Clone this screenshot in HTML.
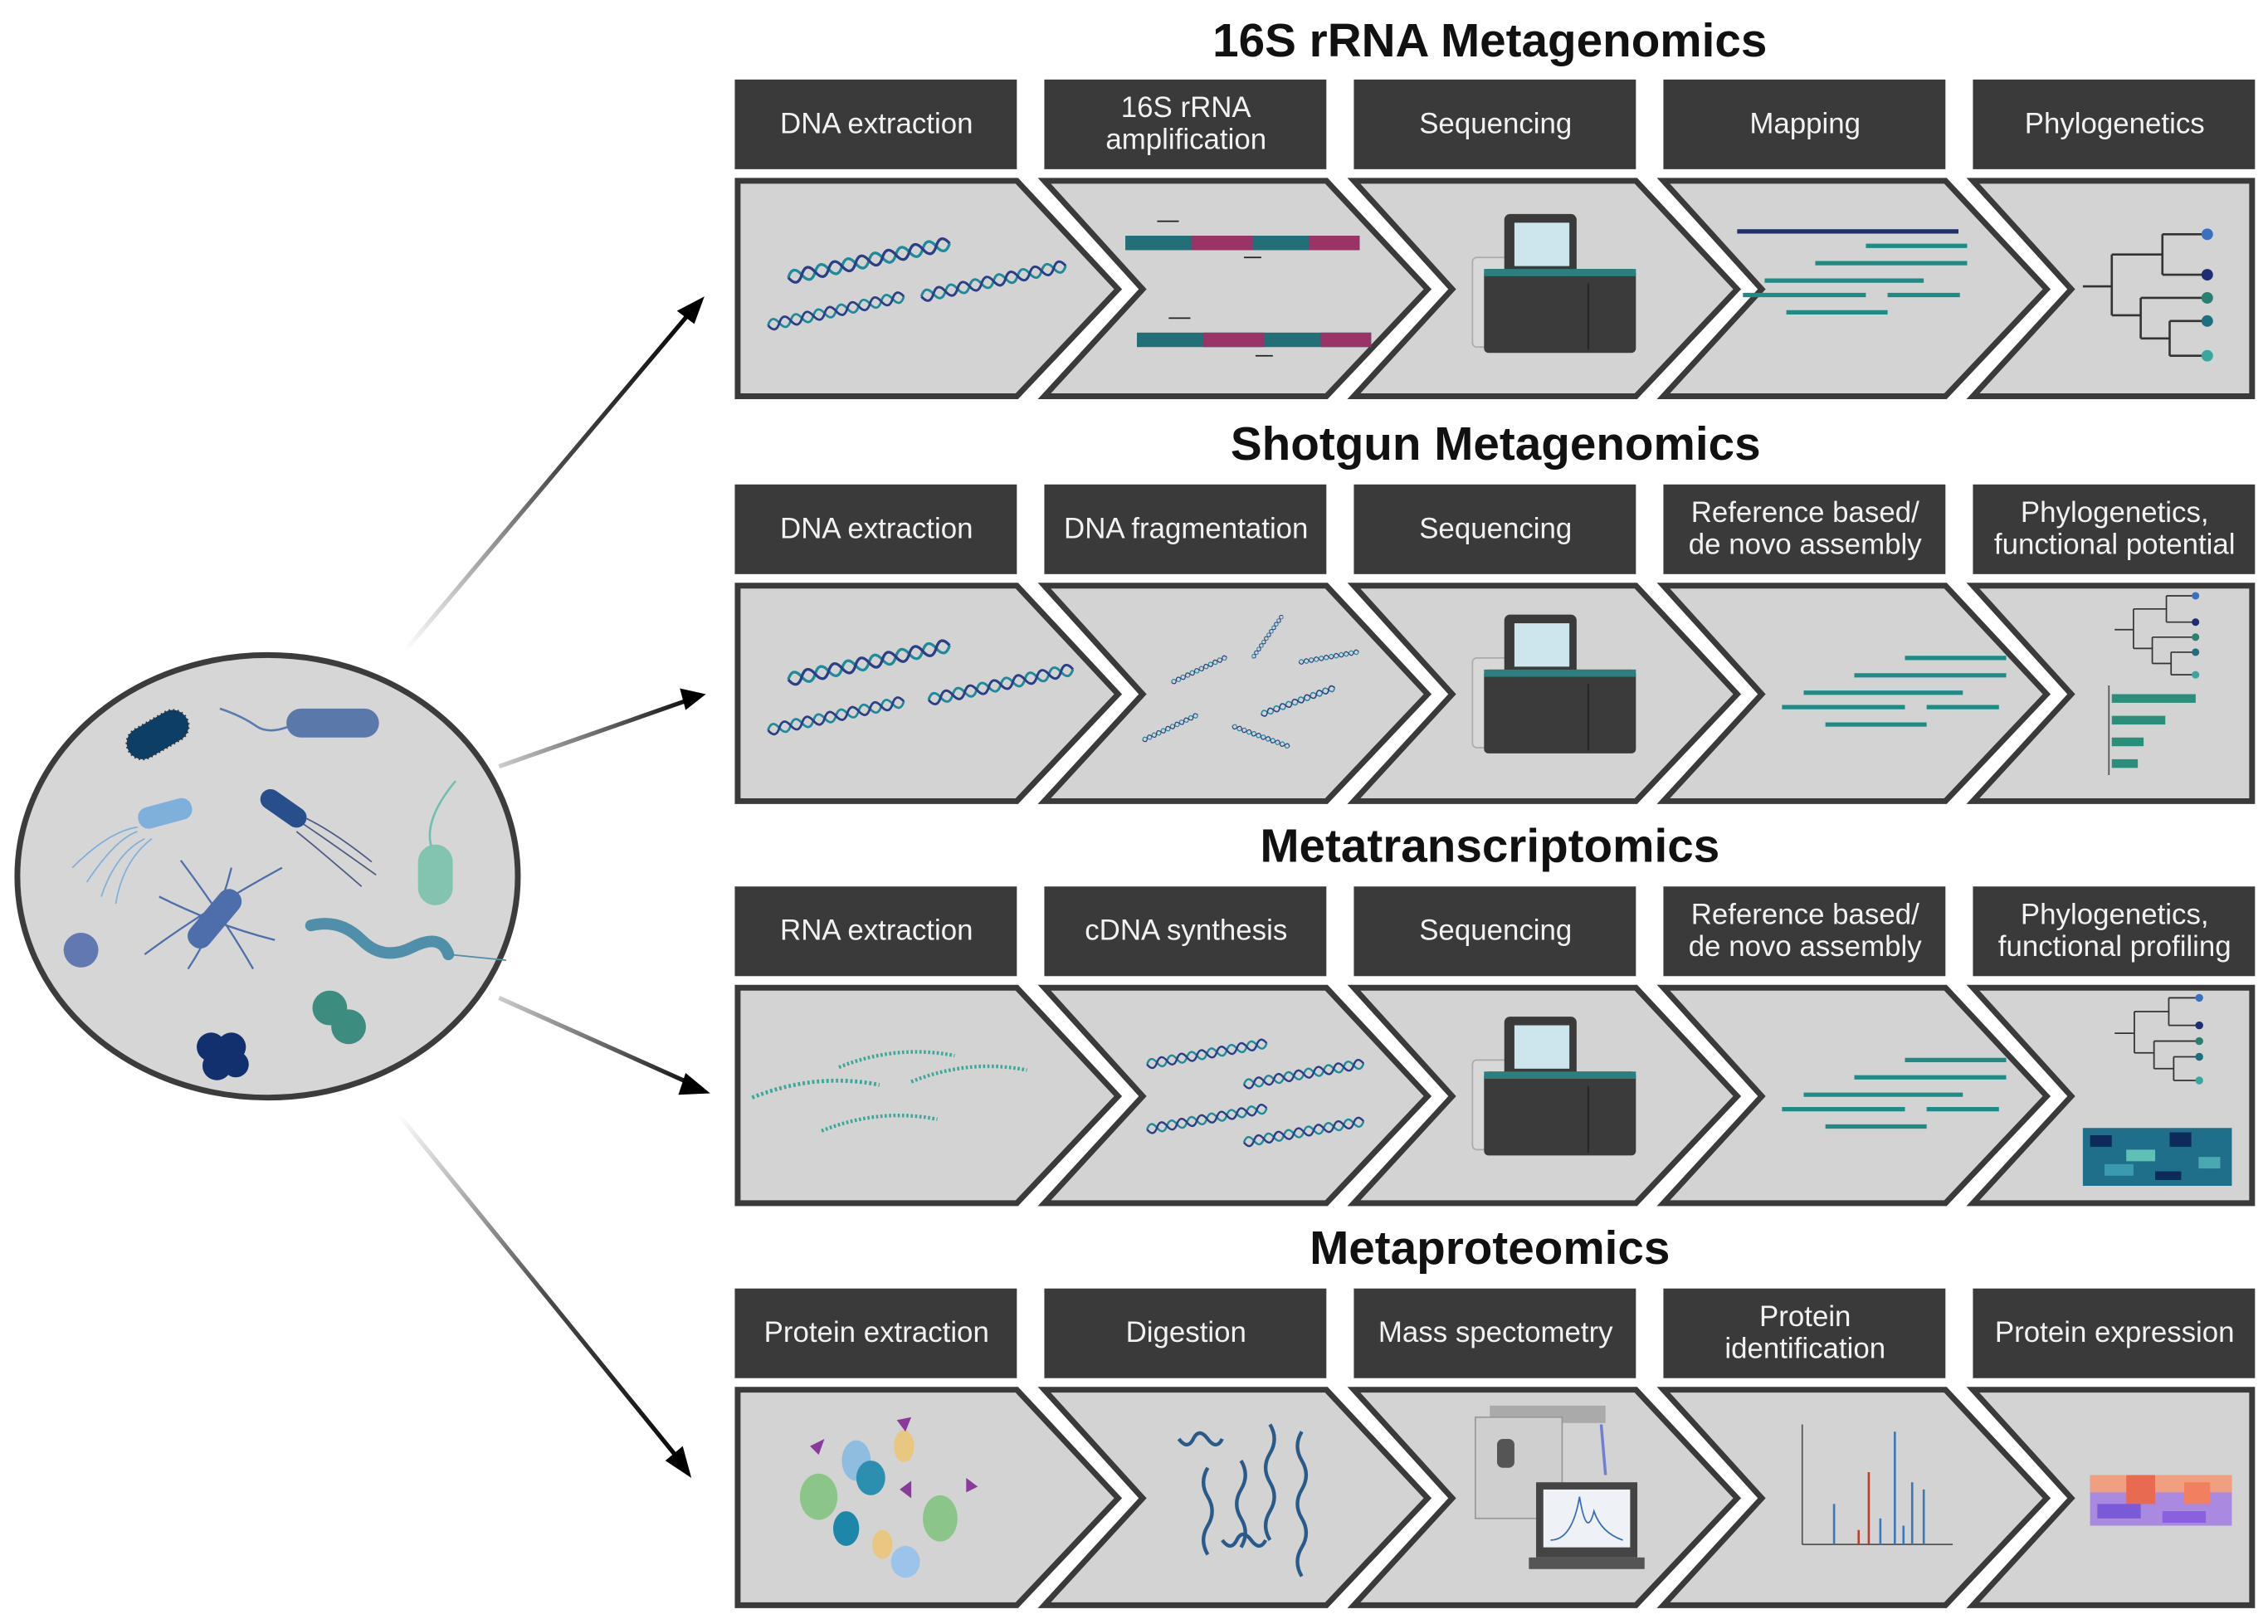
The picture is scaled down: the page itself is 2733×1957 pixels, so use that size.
<!DOCTYPE html>
<html><head><meta charset="utf-8"><style>
html,body{margin:0;padding:0;background:#fff;}
svg{display:block;}
text{font-family:"Liberation Sans",sans-serif;}
</style></head><body>
<svg width="2733" height="1957" viewBox="0 0 1568 1123" preserveAspectRatio="none" xmlns="http://www.w3.org/2000/svg">
<defs>
<linearGradient id="g1" gradientUnits="userSpaceOnUse" x1="280" y1="450" x2="487" y2="205"><stop offset="0" stop-color="#000" stop-opacity="0"/><stop offset="0.5" stop-color="#000" stop-opacity="0.7"/><stop offset="1" stop-color="#000"/></linearGradient>
<linearGradient id="g2" gradientUnits="userSpaceOnUse" x1="345" y1="530" x2="487" y2="480"><stop offset="0" stop-color="#000" stop-opacity="0.2"/><stop offset="1" stop-color="#000"/></linearGradient>
<linearGradient id="g3" gradientUnits="userSpaceOnUse" x1="345" y1="690" x2="490" y2="755"><stop offset="0" stop-color="#000" stop-opacity="0.2"/><stop offset="1" stop-color="#000"/></linearGradient>
<linearGradient id="g4" gradientUnits="userSpaceOnUse" x1="275" y1="770" x2="478" y2="1020"><stop offset="0" stop-color="#000" stop-opacity="0"/><stop offset="0.5" stop-color="#000" stop-opacity="0.7"/><stop offset="1" stop-color="#000"/></linearGradient>
<g id="helix">
<path d="M0 0 q5 -9 10 0 t10 0 t10 0 t10 0 t10 0 t10 0 t10 0 t10 0 t10 0 t10 0 t10 0 t10 0" fill="none" stroke="#1f8a9a" stroke-width="2"/>
<path d="M0 0 q5 9 10 0 t10 0 t10 0 t10 0 t10 0 t10 0 t10 0 t10 0 t10 0 t10 0 t10 0 t10 0" fill="none" stroke="#2a3f86" stroke-width="2"/>
</g>
<g id="seq">
<rect x="2" y="30" width="30" height="62" rx="3" fill="#d8d8d8" stroke="#aaa" stroke-width="1"/>
<rect x="24" y="0" width="50" height="42" rx="4" fill="#3a3a3a"/>
<rect x="31" y="6" width="38" height="30" fill="#cde6ee"/>
<rect x="10" y="38" width="105" height="58" rx="3" fill="#3b3b3b"/>
<rect x="10" y="38" width="105" height="5" fill="#2b7f7f"/>
<line x1="82" y1="48" x2="82" y2="94" stroke="#222" stroke-width="1"/>
</g>
<g id="tree" fill="none" stroke="#333" stroke-width="1.5">
<path d="M0 36 H20 M20 14 V56 M20 14 H55 M55 0 V28 M55 0 H85 M55 28 H85 M20 56 H40 M40 44 V72 M40 44 H85 M40 72 H60 M60 60 V84 M60 60 H85 M60 84 H85"/>
<circle cx="86" cy="0" r="4" fill="#3b6fc0" stroke="none"/>
<circle cx="86" cy="28" r="4" fill="#1e2e72" stroke="none"/>
<circle cx="86" cy="44" r="4" fill="#2b7f6f" stroke="none"/>
<circle cx="86" cy="60" r="4" fill="#1d6e7e" stroke="none"/>
<circle cx="86" cy="84" r="4" fill="#3aa6a0" stroke="none"/>
</g>
<g id="reads" fill="none" stroke="#1e8c86" stroke-width="3">
<path d="M85 0 H155 M50 12 H155 M15 24 H125 M0 34 H85 M100 34 H150 M30 46 H100"/>
</g>
<g id="rna" fill="none" stroke="#3aa89a" stroke-width="2.5" stroke-dasharray="1.5 1.5">
<path d="M0 10 Q40 -6 80 2"/>
</g>
</defs>

<!-- circle -->
<ellipse cx="185" cy="606" rx="173" ry="153" fill="#d6d6d6" stroke="#3c3c3c" stroke-width="4"/>
<rect x="86" y="497" width="46" height="22" rx="11" fill="#0c3e66" transform="rotate(-30 109 508)" stroke="#333" stroke-width="1.5" stroke-dasharray="1 2"/>
<path d="M152 490 q15 5 25 12 t28 -2" fill="none" stroke="#5b7bb0" stroke-width="1.5"/>
<rect x="198" y="490" width="64" height="20" rx="10" fill="#5b78ab"/>
<path d="M60 610 q20 -30 35 -35 M50 600 q25 -25 45 -28 M70 620 q10 -30 30 -40 M80 625 q5 -30 25 -45" fill="none" stroke="#7fb0dc" stroke-width="1"/>
<rect x="95" y="555" width="38" height="15" rx="7" fill="#7fb0dc" transform="rotate(-15 114 562)"/>
<rect x="178" y="552" width="36" height="14" rx="7" fill="#284e8c" transform="rotate(35 196 559)"/>
<path d="M210 570 q15 10 50 35 M205 575 q15 12 45 38 M212 566 q20 10 45 30" fill="none" stroke="#4a5a80" stroke-width="1"/>
<path d="M300 590 q-10 -20 15 -50" fill="none" stroke="#6fbfb0" stroke-width="1.5"/>
<rect x="289" y="584" width="24" height="42" rx="12" fill="#83c4b0"/>
<path d="M100 660 q40 -30 95 -60 M125 595 q30 40 50 75 M110 620 q40 20 80 30 M160 600 q-10 40 -30 70" fill="none" stroke="#4d6eaa" stroke-width="1.3"/>
<rect x="124" y="627" width="48" height="17" rx="8" fill="#4d6eaa" transform="rotate(-50 148 635)"/>
<circle cx="56" cy="657" r="12" fill="#6278b0"/>
<path d="M215 640 q20 -5 35 10 t35 5 t25 5" fill="none" stroke="#4f8faa" stroke-width="8" stroke-linecap="round"/>
<path d="M310 660 q20 2 40 4" fill="none" stroke="#4f8faa" stroke-width="1"/>
<circle cx="228" cy="697" r="12" fill="#3d8c80"/><circle cx="241" cy="710" r="12" fill="#3d8c80"/>
<circle cx="146" cy="724" r="10" fill="#12306e"/><circle cx="160" cy="724" r="10" fill="#12306e"/><circle cx="150" cy="737" r="10" fill="#12306e"/><circle cx="163" cy="736" r="9" fill="#12306e"/>

<!-- arrows -->
<line x1="280" y1="450" x2="478" y2="215" stroke="url(#g1)" stroke-width="3"/>
<polygon points="487,205 468,215 480,224" fill="#000"/>
<line x1="345" y1="530" x2="476" y2="484" stroke="url(#g2)" stroke-width="3"/>
<polygon points="488,480 470,476 474,491" fill="#000"/>
<line x1="345" y1="690" x2="479" y2="750" stroke="url(#g3)" stroke-width="3"/>
<polygon points="491,756 474,742 469,757" fill="#000"/>
<line x1="275" y1="770" x2="470" y2="1010" stroke="url(#g4)" stroke-width="3"/>
<polygon points="478,1022 460,1010 472,1000" fill="#000"/>

<!-- titles -->
<g font-weight="bold" font-size="32.5" text-anchor="middle" fill="#111">
<text x="1030" y="39">16S rRNA Metagenomics</text>
<text x="1034" y="318">Shotgun Metagenomics</text>
<text x="1030" y="596">Metatranscriptomics</text>
<text x="1030" y="874">Metaproteomics</text>
</g>

<!-- headers -->
<g fill="#3a3a3a">
<rect x="508" y="55" width="195" height="62"/><rect x="722" y="55" width="195" height="62"/><rect x="936" y="55" width="195" height="62"/><rect x="1150" y="55" width="195" height="62"/><rect x="1364" y="55" width="195" height="62"/>
<rect x="508" y="335" width="195" height="62"/><rect x="722" y="335" width="195" height="62"/><rect x="936" y="335" width="195" height="62"/><rect x="1150" y="335" width="195" height="62"/><rect x="1364" y="335" width="195" height="62"/>
<rect x="508" y="613" width="195" height="62"/><rect x="722" y="613" width="195" height="62"/><rect x="936" y="613" width="195" height="62"/><rect x="1150" y="613" width="195" height="62"/><rect x="1364" y="613" width="195" height="62"/>
<rect x="508" y="891" width="195" height="62"/><rect x="722" y="891" width="195" height="62"/><rect x="936" y="891" width="195" height="62"/><rect x="1150" y="891" width="195" height="62"/><rect x="1364" y="891" width="195" height="62"/>
</g>
<g fill="#f2f2f2" font-size="20" text-anchor="middle">
<text x="606" y="92">DNA extraction</text>
<text x="820" y="81">16S rRNA</text><text x="820" y="103">amplification</text>
<text x="1034" y="92">Sequencing</text>
<text x="1248" y="92">Mapping</text>
<text x="1462" y="92">Phylogenetics</text>
<text x="606" y="372">DNA extraction</text>
<text x="820" y="372">DNA fragmentation</text>
<text x="1034" y="372">Sequencing</text>
<text x="1248" y="361">Reference  based/</text><text x="1248" y="383">de novo assembly</text>
<text x="1462" y="361">Phylogenetics,</text><text x="1462" y="383">functional potential</text>
<text x="606" y="650">RNA extraction</text>
<text x="820" y="650">cDNA synthesis</text>
<text x="1034" y="650">Sequencing</text>
<text x="1248" y="639">Reference  based/</text><text x="1248" y="661">de novo assembly</text>
<text x="1462" y="639">Phylogenetics,</text><text x="1462" y="661">functional profiling</text>
<text x="606" y="928">Protein extraction</text>
<text x="820" y="928">Digestion</text>
<text x="1034" y="928">Mass spectometry</text>
<text x="1248" y="917">Protein</text><text x="1248" y="939">identification</text>
<text x="1462" y="928">Protein expression</text>
</g>

<!-- chevron bands -->
<g id="band1" fill="#d3d3d3" stroke="#3a3a3a" stroke-width="4" stroke-linejoin="miter">
<polygon points="510,125 703,125 773,200 703,274 510,274"/>
<polygon points="722,125 917,125 987,200 917,274 722,274 790,200"/>
<polygon points="936,125 1131,125 1201,200 1131,274 936,274 1004,200"/>
<polygon points="1150,125 1345,125 1415,200 1345,274 1150,274 1218,200"/>
<polygon points="1364,125 1557,125 1557,274 1364,274 1432,200"/>
</g>
<use href="#band1" y="280"/>
<use href="#band1" y="558"/>
<use href="#band1" y="836"/>

<!-- row 1 icons -->
<use href="#helix" transform="translate(545,192) rotate(-12) scale(0.95)"/>
<use href="#helix" transform="translate(637,205) rotate(-12) scale(0.85)"/>
<use href="#helix" transform="translate(531,225) rotate(-12) scale(0.8)"/>
<g>
<rect x="778" y="163" width="162" height="10" fill="#236f78"/><rect x="824" y="163" width="42" height="10" fill="#9a3366"/><rect x="905" y="163" width="35" height="10" fill="#9a3366"/>
<rect x="786" y="230" width="162" height="10" fill="#236f78"/><rect x="832" y="230" width="42" height="10" fill="#9a3366"/><rect x="913" y="230" width="35" height="10" fill="#9a3366"/>
<path d="M800 153 h15 M872 178 h-12 M808 220 h15 M880 246 h-12" stroke="#222" stroke-width="1"/>
</g>
<use href="#seq" x="1016" y="148"/>
<line x1="1201" y1="160" x2="1354" y2="160" stroke="#1e2f6a" stroke-width="3"/>
<use href="#reads" x="1205" y="170"/>
<use href="#tree" x="1440" y="162"/>

<!-- row 2 icons -->
<use href="#helix" transform="translate(545,470) rotate(-12) scale(0.95)"/>
<use href="#helix" transform="translate(642,484) rotate(-12) scale(0.85)"/>
<use href="#helix" transform="translate(531,505) rotate(-12) scale(0.8)"/>
<use href="#helix" transform="translate(810,472) rotate(-25) scale(0.35)"/>
<use href="#helix" transform="translate(866,455) rotate(-55) scale(0.3)"/>
<use href="#helix" transform="translate(898,458) rotate(-10) scale(0.35)"/>
<use href="#helix" transform="translate(872,494) rotate(-20) scale(0.45)"/>
<use href="#helix" transform="translate(790,512) rotate(-25) scale(0.35)"/>
<use href="#helix" transform="translate(852,502) rotate(20) scale(0.35)"/>
<use href="#seq" x="1016" y="425"/>
<use href="#reads" x="1232" y="455"/>
<use href="#tree" transform="translate(1462,412) scale(0.65)"/>
<g fill="#2a8f7a"><rect x="1460" y="480" width="58" height="6"/><rect x="1460" y="495" width="37" height="6"/><rect x="1460" y="510" width="22" height="6"/><rect x="1460" y="525" width="18" height="6"/></g>
<line x1="1458" y1="474" x2="1458" y2="536" stroke="#555" stroke-width="1"/>

<!-- row 3 icons -->
<use href="#rna" transform="translate(580,728)"/>
<use href="#rna" transform="translate(520,748) scale(1.1)"/>
<use href="#rna" transform="translate(630,738)"/>
<use href="#rna" transform="translate(568,772)"/>
<use href="#helix" transform="translate(793,736) rotate(-10) scale(0.7)"/>
<use href="#helix" transform="translate(860,750) rotate(-10) scale(0.7)"/>
<use href="#helix" transform="translate(793,781) rotate(-10) scale(0.7)"/>
<use href="#helix" transform="translate(860,790) rotate(-10) scale(0.7)"/>
<use href="#seq" x="1016" y="703"/>
<use href="#reads" x="1232" y="733"/>
<use href="#tree" transform="translate(1462,690) scale(0.68)"/>
<g>
<rect x="1440" y="780" width="103" height="40" fill="#1f6e8a"/>
<rect x="1445" y="785" width="15" height="8" fill="#0d2a5a"/><rect x="1470" y="795" width="20" height="8" fill="#5fc0b8"/><rect x="1500" y="783" width="15" height="10" fill="#0d2a5a"/><rect x="1520" y="800" width="15" height="8" fill="#4aa8b0"/><rect x="1455" y="805" width="20" height="8" fill="#3a9ab0"/><rect x="1490" y="810" width="18" height="6" fill="#0d2a5a"/>
</g>

<!-- row 4 icons -->
<g>
<ellipse cx="592" cy="1010" rx="10" ry="14" fill="#8fbde0"/>
<ellipse cx="625" cy="1000" rx="7" ry="11" fill="#e8c880"/>
<ellipse cx="602" cy="1022" rx="10" ry="12" fill="#2d8fb0"/>
<ellipse cx="566" cy="1035" rx="13" ry="16" fill="#8cc58a"/>
<ellipse cx="650" cy="1050" rx="12" ry="16" fill="#8cc58a"/>
<ellipse cx="585" cy="1057" rx="9" ry="12" fill="#1e86a8"/>
<ellipse cx="610" cy="1068" rx="7" ry="10" fill="#e8c880"/>
<ellipse cx="626" cy="1080" rx="10" ry="11" fill="#9cc4ea"/>
<polygon points="560,1000 570,995 566,1006" fill="#8a3a9a"/><polygon points="620,982 630,980 626,990" fill="#8a3a9a"/><polygon points="668,1022 676,1028 668,1032" fill="#8a3a9a"/><polygon points="622,1030 630,1024 630,1036" fill="#8a3a9a"/>
</g>
<g fill="none" stroke="#2a5a8a" stroke-width="2.5">
<path d="M815 995 q6 8 10 0 t10 0 t10 0"/>
<path d="M878 985 q6 10 0 20 t0 20 t0 20 t0 20"/>
<path d="M900 990 q-6 10 0 20 t0 20 t0 20 t0 20 t0 20"/>
<path d="M835 1015 q-6 10 0 20 t0 20 t0 20"/>
<path d="M858 1010 q6 10 0 20 t0 20 t0 20"/>
<path d="M845 1065 q6 8 10 0 t10 0 t10 0"/>
</g>
<g>
<rect x="1030" y="972" width="80" height="12" fill="#aaa"/>
<rect x="1020" y="980" width="60" height="70" fill="#cfcfcf" stroke="#999" stroke-width="1"/>
<rect x="1035" y="995" width="12" height="20" rx="4" fill="#555"/>
<rect x="1062" y="1025" width="70" height="52" fill="#444"/>
<rect x="1067" y="1030" width="60" height="40" fill="#eef2f6"/>
<path d="M1072 1065 q15 0 20 -30 q5 30 10 10 q5 15 20 20" fill="none" stroke="#3a6ab8" stroke-width="1"/>
<rect x="1057" y="1077" width="80" height="8" fill="#555"/>
<path d="M1107 985 L1110 1020" stroke="#7080d0" stroke-width="2"/>
</g>
<g>
<line x1="1246" y1="985" x2="1246" y2="1068" stroke="#555" stroke-width="1"/>
<line x1="1246" y1="1068" x2="1350" y2="1068" stroke="#555" stroke-width="1"/>
<g stroke="#3a78b8" stroke-width="1.5"><line x1="1268" y1="1068" x2="1268" y2="1040"/><line x1="1310" y1="1068" x2="1310" y2="990"/><line x1="1322" y1="1068" x2="1322" y2="1025"/><line x1="1330" y1="1068" x2="1330" y2="1030"/><line x1="1300" y1="1068" x2="1300" y2="1050"/><line x1="1316" y1="1068" x2="1316" y2="1055"/></g>
<g stroke="#b84030" stroke-width="1.5"><line x1="1292" y1="1068" x2="1292" y2="1018"/><line x1="1285" y1="1068" x2="1285" y2="1058"/></g>
</g>
<g>
<rect x="1445" y="1020" width="98" height="35" fill="#a98ae0"/>
<rect x="1445" y="1020" width="98" height="12" fill="#f0a080"/>
<rect x="1470" y="1020" width="20" height="20" fill="#e86a50"/><rect x="1510" y="1025" width="18" height="15" fill="#f08060"/>
<rect x="1450" y="1040" width="30" height="10" fill="#7a5ad8"/><rect x="1495" y="1045" width="30" height="8" fill="#8a60e0"/>
</g>
</svg>
</body></html>
